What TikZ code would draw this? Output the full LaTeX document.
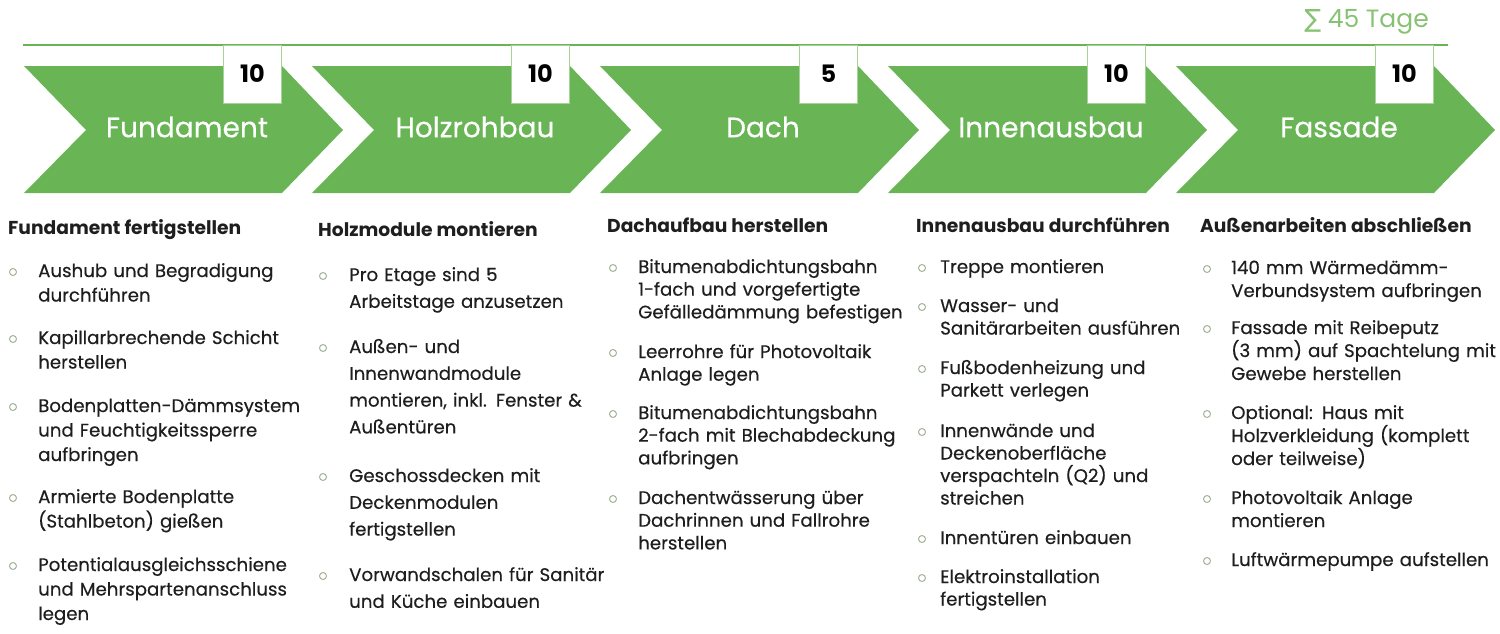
\documentclass[tikz,border=0pt]{standalone}
\usepackage{fontspec}
\setmainfont{Poppins}
\newfontfamily\medfont[FakeBold=0.4]{Poppins}
\newfontfamily\symfont{DejaVu Sans}
\definecolor{chev}{HTML}{69B556}
\definecolor{lgreen}{HTML}{86C272}
\definecolor{boxline}{HTML}{A8D398}
\definecolor{bul}{HTML}{A3B398}
\definecolor{txt}{HTML}{1E1E1E}
\tikzset{
  chevron/.style={fill=chev, draw=none},
  numbox/.style={fill=white, draw=boxline, line width=0.8pt, minimum width=58pt, minimum height=58pt, inner sep=0pt, font={\fontsize{24}{28}\selectfont\bfseries}, text=black},
  chevlabel/.style={text=white, font={\medfont\fontsize{28}{32}\selectfont}, inner sep=0pt},
  heading/.style={anchor=base west, inner sep=0pt, text=txt, font={\fontsize{18.7}{22}\selectfont\bfseries}},
  bullet/.style={circle, draw=bul, line width=1pt, minimum size=7pt, inner sep=0pt},
  itemA/.style={anchor=base west, inner sep=0pt, text=txt, text width=300pt, align=left, font={\medfont\fontsize{18.2}{24.5}\selectfont}},
  itemB/.style={itemA, font={\medfont\fontsize{18.2}{26.8}\selectfont}},
  itemC/.style={itemA, font={\medfont\fontsize{18.2}{22.7}\selectfont}},
  itemD/.style={itemA, font={\medfont\fontsize{18.2}{22.5}\selectfont}},
  itemE/.style={itemA, font={\medfont\fontsize{18.2}{23}\selectfont}},
}
\begin{document}
\begin{tikzpicture}[x=1pt,y=-1pt]
\useasboundingbox (0,0) rectangle (1500,633);
% top line
\coordinate (tl) at (23,45);
\coordinate (tr) at (1448,45);
\draw[chev, line width=2.5pt] (tl) -- (tr);
\node[text=lgreen, font={\fontsize{25}{28}\selectfont}, anchor=base east, inner sep=0pt] (sum) at (1429,27) {{\symfont ∑} 45 Tage};
% chevrons
\foreach \i/\lab/\num in {0/Fundament/10, 1/Holzrohbau/10, 2/Dach/5, 3/Innenausbau/10, 4/Fassade/10}{
  \pgfmathsetmacro{\xo}{24+288*\i}
  \fill[chevron] (\xo,66) -- (\xo+258,66) -- (\xo+319,130) -- (\xo+258,193) -- (\xo,193) -- (\xo+62,130) -- cycle;
  \node[chevlabel] (lab\i) at (\xo+163,127) {\lab};
  \node[numbox] (num\i) at (\xo+228.5,74) {\num};
}
% column 1
\node[heading] (h1) at (8,234) {Fundament fertigstellen};
\node[bullet] (b11) at (13,272) {};
\node[itemA] (i11) at (38,277) {Aushub und Begradigung\\durchführen};
\node[bullet] (b12) at (13,339) {};
\node[itemA] (i12) at (38,344) {Kapillarbrechende Schicht\\herstellen};
\node[bullet] (b13) at (13,407) {};
\node[itemA] (i13) at (38,412) {Bodenplatten-Dämmsystem\\und Feuchtigkeitssperre\\aufbringen};
\node[bullet] (b14) at (13,498) {};
\node[itemA] (i14) at (38,503) {Armierte Bodenplatte\\(Stahlbeton) gießen};
\node[bullet] (b15) at (13,566) {};
\node[itemA] (i15) at (38,571) {Potentialausgleichsschiene\\und Mehrspartenanschluss\\legen};
% column 2
\node[heading] (h2) at (318,236) {Holzmodule montieren};
\node[bullet] (b21) at (323,276) {};
\node[itemB] (i21) at (349,281) {Pro Etage sind 5\\Arbeitstage anzusetzen};
\node[bullet] (b22) at (323,348) {};
\node[itemB] (i22) at (349,353) {Außen- und\\Innenwandmodule\\montieren, inkl. Fenster \&\\Außentüren};
\node[bullet] (b23) at (323,477) {};
\node[itemB] (i23) at (349,482) {Geschossdecken mit\\Deckenmodulen\\fertigstellen};
\node[bullet] (b24) at (323,576) {};
\node[itemB] (i24) at (349,581) {Vorwandschalen für Sanitär\\und Küche einbauen};
% column 3
\node[heading] (h3) at (607,232) {Dachaufbau herstellen};
\node[bullet] (b31) at (613,268) {};
\node[itemC] (i31) at (638,273) {Bitumenabdichtungsbahn\\1-fach und vorgefertigte\\Gefälledämmung befestigen};
\node[bullet] (b32) at (613,353) {};
\node[itemC] (i32) at (638,358) {Leerrohre für Photovoltaik\\Anlage legen};
\node[bullet] (b33) at (613,414) {};
\node[itemC] (i33) at (638,419) {Bitumenabdichtungsbahn\\2-fach mit Blechabdeckung\\aufbringen};
\node[bullet] (b34) at (613,499) {};
\node[itemC] (i34) at (638,504) {Dachentwässerung über\\Dachrinnen und Fallrohre\\herstellen};
% column 4
\node[heading] (h4) at (916,232) {Innenausbau durchführen};
\node[bullet] (b41) at (922,268) {};
\node[itemD] (i41) at (940,273) {Treppe montieren};
\node[bullet] (b42) at (922,307) {};
\node[itemD] (i42) at (940,312) {Wasser- und\\Sanitärarbeiten ausführen};
\node[bullet] (b43) at (922,369) {};
\node[itemD] (i43) at (940,374) {Fußbodenheizung und\\Parkett verlegen};
\node[bullet] (b44) at (922,432) {};
\node[itemD] (i44) at (940,437) {Innenwände und\\Deckenoberfläche\\verspachteln (Q2) und\\streichen};
\node[bullet] (b45) at (922,539) {};
\node[itemD] (i45) at (940,544) {Innentüren einbauen};
\node[bullet] (b46) at (922,578) {};
\node[itemD] (i46) at (940,583) {Elektroinstallation\\fertigstellen};
% column 5
\node[heading] (h5) at (1200,232) {Außenarbeiten abschließen};
\node[bullet] (b51) at (1207,269) {};
\node[itemE] (i51) at (1231,274) {140 mm Wärmedämm-\\Verbundsystem aufbringen};
\node[bullet] (b52) at (1207,329) {};
\node[itemE] (i52) at (1231,334) {Fassade mit Reibeputz\\(3 mm) auf Spachtelung mit\\Gewebe herstellen};
\node[bullet] (b53) at (1207,414) {};
\node[itemE] (i53) at (1231,419) {Optional: Haus mit\\Holzverkleidung (komplett\\oder teilweise)};
\node[bullet] (b54) at (1207,499) {};
\node[itemE] (i54) at (1231,504) {Photovoltaik Anlage\\montieren};
\node[bullet] (b55) at (1207,561) {};
\node[itemE] (i55) at (1231,566) {Luftwärmepumpe aufstellen};
\end{tikzpicture}
\end{document}
